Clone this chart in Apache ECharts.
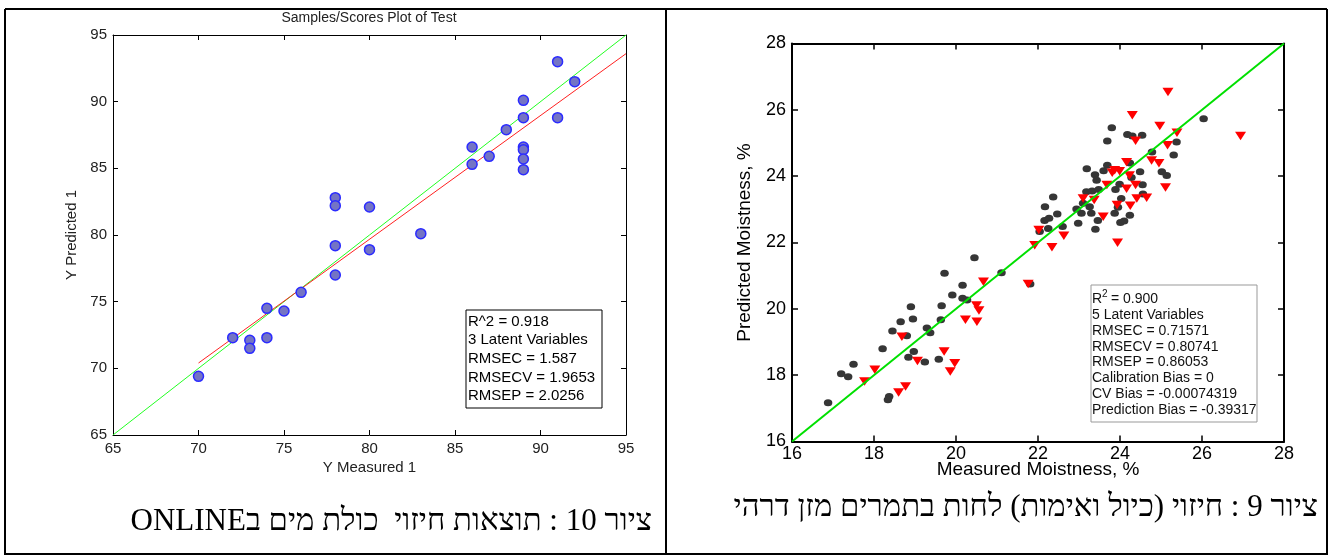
<!DOCTYPE html>
<html><head><meta charset="utf-8">
<script src="https://cdn.jsdelivr.net/npm/echarts@6/dist/echarts.min.js"></script>
<style>html,body{margin:0;padding:0;background:#fff}#c{width:1330px;height:555px}</style>
</head><body><div id="c"></div>
<script>
// ---- Left chart: Samples/Scores Plot of Test ----
const leftMeasured  = [70, 72, 73, 73, 74, 74, 75, 76, 78, 78, 78, 78, 80, 80, 83, 86, 86, 87, 88, 89, 89, 89, 89, 89, 89, 91, 91, 92];
const leftPredicted = [69.4, 72.3, 72.1, 71.5, 74.5, 72.3, 74.3, 75.7, 82.8, 82.2, 79.2, 77.0, 82.1, 78.9, 80.1, 86.6, 85.3, 85.9, 87.9, 90.1, 88.8, 86.6, 86.4, 85.7, 84.9, 93.0, 88.8, 91.5];
const leftIdealX = [65, 95];
const leftIdealY = [65, 95];
const leftFitX = [70, 95];
const leftFitY = [70.4, 93.6];
const leftStats = ['R^2 = 0.918', '3 Latent Variables', 'RMSEC = 1.587', 'RMSECV = 1.9653', 'RMSEP = 2.0256'];

// ---- Right chart: Moistness ----
const calMeasured  = [16.88,17.20,17.37,17.50,18.37,18.34,18.21,18.45,18.65,18.80,18.90,18.95,18.97,18.84,19.24,19.29,19.37,19.58,19.63,19.65,19.91,20.16,20.27,20.16,21.81,19.72,20.45,21.11,22.17,22.16,22.27,22.04,22.25,26.04,23.80,23.69,24.18,24.30,24.54,25.38,25.31,24.78,23.69,23.60,23.19,23.39,23.43,24.24,24.49,25.02,25.14,24.28,24.55,23.99,23.89,23.18,23.32,23.48,24.03,24.56,23.10,23.26,22.94,23.06,23.30,22.37,22.47,22.60,22.98,23.46,23.87,24.24,24.01,24.10,23.40,23.95];
const calPredicted = [17.17,18.04,17.95,18.33,17.36,17.26,18.80,19.33,19.61,19.19,20.06,19.69,18.71,18.54,18.40,19.42,19.28,18.48,19.67,20.09,20.42,20.32,20.27,20.71,20.75,21.07,21.54,21.09,23.08,22.66,22.73,22.33,22.42,25.73,25.46,25.06,25.26,25.21,25.23,25.03,24.64,24.73,24.33,24.16,24.22,24.04,23.88,24.40,24.13,24.13,24.02,23.96,23.74,23.76,23.60,23.53,23.55,23.60,23.33,23.46,23.18,23.08,23.01,22.88,22.88,23.37,22.86,22.48,22.58,22.66,22.88,22.82,22.60,22.65,22.40,23.06];
const valMeasured  = [17.77,18.02,18.60,18.77,18.68,19.06,19.71,19.86,19.97,20.23,20.50,20.56,20.51,20.67,21.76,22.02,21.92,25.17,24.30,24.97,25.39,24.38,26.94,25.16,24.16,24.77,24.95,23.87,23.99,23.81,24.23,23.68,24.38,24.16,25.11,23.10,23.37,24.41,24.65,23.93,24.25,23.59,22.63,22.34,23.94];
const valPredicted = [17.81,18.16,17.48,17.66,19.16,18.43,18.71,18.11,18.36,19.67,20.10,19.95,19.61,20.82,20.75,22.38,21.92,26.54,25.84,25.51,25.31,25.07,25.21,24.93,24.42,24.47,24.39,24.18,24.15,24.10,24.02,23.73,23.73,23.62,23.66,23.33,23.28,23.33,23.35,23.13,23.11,22.78,22.20,21.86,21.99];
const rightIdealX = [16, 28];
const rightIdealY = [16, 28];
const rightStats = ['5 Latent Variables', 'RMSEC = 0.71571', 'RMSECV = 0.80741', 'RMSEP = 0.86053', 'Calibration Bias = 0', 'CV Bias = -0.00074319', 'Prediction Bias = -0.39317'];

const leftTitle = 'Samples/Scores Plot of Test';
const leftCaption = 'ציור 10 : תוצאות חיזוי  כולת מים בONLINE';
const rightCaption = 'ציור 9 : חיזוי (כיול ואימות) לחות בתמרים מזן דרהי';

const zip = (a, b) => a.map((v, i) => [v, b[i]]);
const SANS = '"Liberation Sans", Arial, Helvetica, sans-serif';
const SERIF = '"Liberation Serif", "Times New Roman", "DejaVu Serif", serif';

function axisBase(min, max, interval, opts) {
  return Object.assign({
    type: 'value', min, max, interval,
    splitLine: { show: false },
    axisLine: { show: true, onZero: false, lineStyle: { color: '#000', width: opts.lw } },
    axisTick: { show: true, inside: true, length: opts.tick, lineStyle: { color: '#000', width: opts.lw > 1 ? 1.5 : 1 } },
    axisLabel: { show: opts.label, color: opts.labelColor, fontSize: opts.fs, fontFamily: SANS, margin: opts.margin, showMinLabel: true, showMaxLabel: true },
    nameMoveOverlap: false
  }, opts.extra || {});
}

const L = { lw: 1, tick: 5, fs: 15, labelColor: '#222' };
const R = { lw: 2, tick: 6, fs: 18, labelColor: '#000' };

const graphics = [];
// table frame
[[5, 9, 1327, 9], [5, 9, 5, 555], [666, 9, 666, 555], [1327, 9, 1327, 555], [5, 554, 1327, 554]].forEach(s => {
  graphics.push({ type: 'line', silent: true, shape: { x1: s[0], y1: s[1], x2: s[2], y2: s[3] }, style: { stroke: '#000', lineWidth: 2 } });
});
// left title
graphics.push({ type: 'text', style: { text: leftTitle, x: 369, y: 18.5, font: '14px ' + SANS, fill: '#222', align: 'center', verticalAlign: 'middle', textAlign: 'center', textVerticalAlign: 'middle' } });
// left stats box
graphics.push({ type: 'rect', shape: { x: 466, y: 310, width: 136, height: 98 }, style: { fill: '#fff', stroke: '#000', lineWidth: 1 }, z: 10 });
leftStats.forEach((t, i) => {
  graphics.push({ type: 'text', z: 11, style: { text: t, x: 468, y: 321.5 + i * 18.7, font: '15px ' + SANS, fill: '#000', align: 'left', verticalAlign: 'middle', textAlign: 'left', textVerticalAlign: 'middle' } });
});
// right stats box
graphics.push({ type: 'rect', shape: { x: 1091, y: 285, width: 166, height: 137 }, style: { fill: '#fff', stroke: '#999', lineWidth: 1 }, z: 10 });
graphics.push({ type: 'text', z: 11, style: { text: 'R', x: 1092, y: 299.5, font: '14px ' + SANS, fill: '#111', align: 'left', verticalAlign: 'middle', textAlign: 'left', textVerticalAlign: 'middle' } });
graphics.push({ type: 'text', z: 11, style: { text: '2', x: 1102, y: 294, font: '10px ' + SANS, fill: '#111', align: 'left', verticalAlign: 'middle', textAlign: 'left', textVerticalAlign: 'middle' } });
graphics.push({ type: 'text', z: 11, style: { text: ' = 0.900', x: 1107, y: 299.5, font: '14px ' + SANS, fill: '#111', align: 'left', verticalAlign: 'middle', textAlign: 'left', textVerticalAlign: 'middle' } });
rightStats.forEach((t, i) => {
  graphics.push({ type: 'text', z: 11, style: { text: t, x: 1092, y: 315 + i * 15.86, font: '14px ' + SANS, fill: '#111', align: 'left', verticalAlign: 'middle', textAlign: 'left', textVerticalAlign: 'middle' } });
});
// captions (right-to-left embedding)
graphics.push({ type: 'text', style: { text: '\u202B' + leftCaption + '\u202C', x: 652, y: 522, font: '31px ' + SERIF, fill: '#000', align: 'right', verticalAlign: 'middle', textAlign: 'right', textVerticalAlign: 'middle' } });
graphics.push({ type: 'text', style: { text: '\u202B' + rightCaption + '\u202C', x: 1318, y: 508, font: '31px ' + SERIF, fill: '#000', align: 'right', verticalAlign: 'middle', textAlign: 'right', textVerticalAlign: 'middle' } });

const option = {
  backgroundColor: '#fff',
  animation: false,
  grid: [
    { left: 113, top: 35, width: 513, height: 400, outerBoundsMode: 'none', containLabel: false },
    { left: 792, top: 43.5, width: 492, height: 398, outerBoundsMode: 'none', containLabel: false }
  ],
  xAxis: [
    axisBase(65, 95, 5, Object.assign({}, L, { label: true, margin: 6, extra: { gridIndex: 0, position: 'bottom', name: 'Y Measured 1', nameLocation: 'middle', nameGap: 25, nameTextStyle: { fontSize: 15, fontFamily: SANS, color: '#222' } } })),
    axisBase(65, 95, 5, Object.assign({}, L, { label: false, extra: { gridIndex: 0, position: 'top' } })),
    axisBase(16, 28, 2, Object.assign({}, R, { label: true, margin: 4, extra: { gridIndex: 1, position: 'bottom', name: 'Measured Moistness, %', nameLocation: 'middle', nameGap: 19, nameTextStyle: { fontSize: 19, fontFamily: SANS, color: '#000' } } })),
    axisBase(16, 28, 2, Object.assign({}, R, { label: false, extra: { gridIndex: 1, position: 'top' } }))
  ],
  yAxis: [
    axisBase(65, 95, 5, Object.assign({}, L, { label: true, margin: 6, extra: { gridIndex: 0, position: 'left', name: 'Y Predicted 1', nameLocation: 'middle', nameGap: 34, nameRotate: 90, nameTextStyle: { fontSize: 15, fontFamily: SANS, color: '#222' } } })),
    axisBase(65, 95, 5, Object.assign({}, L, { label: false, extra: { gridIndex: 0, position: 'right' } })),
    axisBase(16, 28, 2, Object.assign({}, R, { label: true, margin: 6, extra: { gridIndex: 1, position: 'left', name: 'Predicted Moistness, %', nameLocation: 'middle', nameGap: 38, nameRotate: 90, nameTextStyle: { fontSize: 19, fontFamily: SANS, color: '#000' } } })),
    axisBase(16, 28, 2, Object.assign({}, R, { label: false, extra: { gridIndex: 1, position: 'right' } }))
  ],
  series: [
    { type: 'line', xAxisIndex: 0, yAxisIndex: 0, data: zip(leftIdealX, leftIdealY), showSymbol: false, silent: true, lineStyle: { color: '#22ff22', width: 1 }, z: 3 },
    { type: 'line', xAxisIndex: 0, yAxisIndex: 0, data: zip(leftFitX, leftFitY), showSymbol: false, silent: true, lineStyle: { color: '#ff2020', width: 1 }, z: 3 },
    { type: 'scatter', xAxisIndex: 0, yAxisIndex: 0, data: zip(leftMeasured, leftPredicted), symbol: 'circle', symbolSize: 10, itemStyle: { color: '#7474c4', borderColor: '#2b2bff', borderWidth: 1.5, opacity: 1 }, z: 4 },
    { type: 'scatter', xAxisIndex: 2, yAxisIndex: 2, data: zip(calMeasured, calPredicted), symbol: 'circle', symbolSize: [8.5, 7], itemStyle: { color: '#363636', opacity: 1 }, z: 2 },
    { type: 'scatter', xAxisIndex: 2, yAxisIndex: 2, data: zip(valMeasured, valPredicted), symbol: 'triangle', symbolRotate: 180, symbolSize: [11, 8.5], itemStyle: { color: '#ff0000', opacity: 1 }, z: 3 },
    { type: 'line', xAxisIndex: 2, yAxisIndex: 2, data: zip(rightIdealX, rightIdealY), showSymbol: false, silent: true, lineStyle: { color: '#00e000', width: 2 }, z: 4 }
  ],
  graphic: graphics
};

const chart = echarts.init(document.getElementById('c'), null, { renderer: 'canvas' });
chart.setOption(option);
</script>
</body></html>
